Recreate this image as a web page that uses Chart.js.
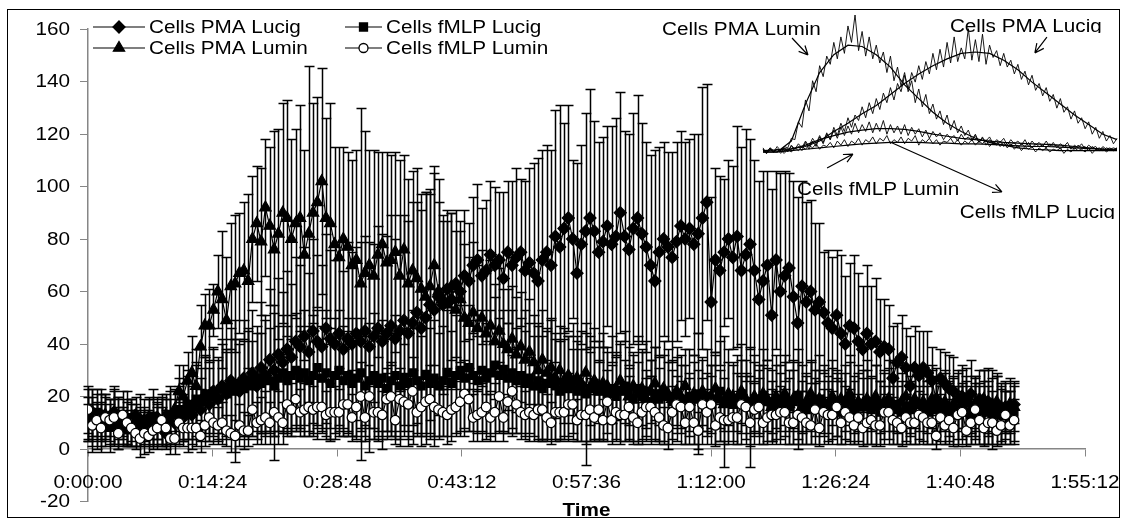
<!DOCTYPE html>
<html>
<head>
<meta charset="utf-8">
<title>Chemiluminescence kinetics</title>
<script src="https://cdn.jsdelivr.net/npm/chart.js@4.4.1/dist/chart.umd.min.js"></script>
<style>
  html, body { margin: 0; padding: 0; background: #fff; }
  #wrap { position: relative; width: 1125px; height: 521px; }
  #mainChart { position: absolute; left: 0; top: 0; }
  #insetChart { position: absolute; left: 640px; top: 0; }
</style>
</head>
<body>
<div id="wrap">
  <canvas id="mainChart" width="1125" height="521"></canvas>
  <canvas id="insetChart" width="485" height="230"></canvas>
</div>
<script>
// --- Main series: one reading every 30 s, mean and SD ---
const STEP_SEC = 30;

const pmaLucig = [
  12, 14, 10, 13, 9, 11, 14, 8, 12, 10,
  9, 13, 7, 11, 8, 10, 12, 9, 6, 11,
  10, 14, 12, 16, 13, 18, 15, 20, 17, 22,
  19, 24, 21, 26, 23, 22, 27, 25, 29, 24,
  31, 28, 34, 30, 36, 33, 38, 35, 41, 39,
  43, 37, 45, 41, 39, 46, 42, 40, 44, 38,
  42, 40, 44, 41, 45, 39, 43, 46, 41, 44,
  47, 42, 45, 49, 44, 48, 52, 46, 50, 55,
  53, 58, 55, 61, 57, 63, 60, 66, 64, 70,
  72, 66, 68, 74, 70, 72, 65, 75, 70, 73,
  75, 68, 71, 67, 64, 72, 75, 70, 81, 77,
  84, 88, 80, 67, 78, 83, 88, 83, 75, 79,
  85, 78, 81, 90, 81, 76, 84, 88, 82, 77,
  70, 64, 75, 80, 77, 73, 79, 85, 80, 84,
  78, 82, 88, 94, 56, 72, 68, 75, 80, 73,
  81, 68, 74, 78, 68, 57, 64, 70, 51, 72,
  60, 66, 69, 58, 48, 62, 56, 60, 53, 56,
  52, 48, 46, 51, 44, 40, 47, 46, 41, 38,
  44, 40, 41, 37, 39, 38, 27, 33, 35, 31,
  24, 31, 28, 31, 29, 26, 19, 27, 25, 23,
  22, 15, 20, 18, 21, 16, 19, 14, 18, 15,
  17, 13, 16, 14, 17
];
const pmaLucigSd = [
  8, 9, 7, 10, 8, 6, 9, 8, 7, 9,
  8, 7, 6, 8, 7, 9, 8, 7, 6, 8,
  9, 10, 9, 12, 11, 14, 12, 15, 14, 17,
  16, 18, 17, 20, 19, 18, 22, 21, 24, 20,
  25, 23, 27, 25, 29, 27, 30, 28, 32, 31,
  34, 30, 35, 33, 31, 36, 34, 32, 35, 30,
  37, 35, 33, 38, 36, 40, 35, 39, 41, 37,
  42, 38, 44, 40, 43, 46, 42, 45, 48, 44,
  52, 45, 34, 30, 33, 28, 27, 25, 22, 26,
  29, 26, 27, 28, 30, 26, 33, 27, 32, 34,
  28, 34, 36, 42, 47, 42, 41, 44, 48, 54,
  40, 43, 30, 42, 38, 45, 49, 42, 42, 40,
  38, 45, 45, 46, 40, 44, 44, 47, 42, 40,
  42, 50, 40, 37, 36, 40, 38, 36, 37, 34,
  42, 38, 50, 45, 40, 35, 36, 28, 30, 35,
  42, 47, 48, 40, 42, 45, 42, 36, 48, 34,
  45, 40, 36, 44, 48, 40, 38, 35, 33, 30,
  23, 28, 27, 25, 30, 26, 24, 28, 26, 24,
  26, 22, 24, 20, 18, 17, 20, 15, 16, 15,
  19, 16, 17, 14, 16, 13, 12, 11, 12, 13,
  13, 14, 12, 13, 13, 12, 11, 12, 13, 15,
  11, 10, 9, 8, 7
];

const fmlpLucig = [
  13, 11, 14, 10, 12, 9, 13, 11, 8, 12,
  10, 9, 11, 8, 10, 12, 9, 11, 10, 13,
  12, 15, 14, 17, 16, 19, 18, 21, 20, 22,
  19, 23, 21, 24, 22, 25, 23, 26, 24, 27,
  25, 28, 26, 24, 27, 29, 26, 28, 30, 27,
  29, 26, 28, 31, 27, 29, 25, 28, 30, 26,
  28, 25, 27, 29, 24, 26, 28, 25, 27, 23,
  26, 28, 24, 27, 25, 29, 26, 24, 28, 25,
  27, 24, 26, 29, 25, 28, 30, 27, 31, 28,
  26, 30, 27, 29, 32, 28, 30, 27, 29, 26,
  28, 25, 27, 24, 26, 23, 25, 27, 24, 22,
  25, 23, 26, 22, 24, 21, 23, 25, 22, 24,
  21, 23, 20, 22, 24, 21, 19, 23, 20, 22,
  18, 21, 19, 22, 20, 18, 21, 19, 17, 20,
  19, 21, 18, 20, 17, 19, 22, 18, 20, 17,
  19, 21, 18, 16, 19, 17, 20, 18, 16, 19,
  17, 19, 16, 18, 20, 17, 15, 18, 16, 19,
  17, 15, 18, 16, 14, 17, 19, 15, 17, 16,
  18, 15, 17, 14, 16, 18, 15, 17, 14, 16,
  15, 17, 13, 16, 14, 17, 15, 13, 16, 14,
  15, 13, 16, 14, 12, 15, 13, 16, 14, 12,
  15, 13, 14, 12, 14
];
const fmlpLucigSd = [
  10, 12, 9, 11, 8, 10, 11, 9, 7, 10,
  9, 8, 10, 7, 9, 11, 8, 10, 9, 11,
  10, 12, 11, 13, 12, 14, 13, 15, 14, 16,
  15, 17, 16, 18, 27, 17, 18, 19, 17, 20,
  19, 21, 20, 28, 20, 22, 21, 23, 22, 20,
  24, 21, 23, 22, 20, 24, 21, 22, 23, 21,
  22, 20, 23, 21, 19, 22, 24, 20, 22, 19,
  21, 23, 20, 22, 21, 24, 20, 19, 23, 21,
  22, 20, 21, 24, 20, 23, 25, 22, 24, 21,
  20, 23, 21, 24, 26, 22, 23, 21, 24, 20,
  22, 20, 21, 19, 22, 20, 21, 23, 20, 19,
  21, 20, 22, 19, 21, 27, 20, 21, 19, 20,
  18, 20, 17, 19, 21, 18, 17, 20, 18, 19,
  16, 18, 17, 19, 18, 16, 18, 17, 15, 18,
  17, 23, 16, 18, 15, 17, 19, 25, 18, 15,
  17, 19, 16, 23, 17, 15, 18, 16, 14, 17,
  15, 17, 14, 16, 18, 15, 13, 16, 14, 17,
  15, 13, 16, 14, 12, 15, 17, 13, 15, 14,
  16, 13, 15, 12, 14, 16, 13, 15, 12, 14,
  13, 15, 11, 14, 12, 15, 13, 11, 14, 12,
  13, 11, 14, 12, 10, 13, 11, 14, 12, 10,
  13, 11, 12, 10, 12
];

const pmaLumin = [
  10, 12, 9, 11, 13, 8, 10, 12, 9, 7,
  11, 8, 10, 9, 12, 8, 11, 10, 13, 12,
  15, 22, 20, 26, 29, 24, 39, 47, 47, 53,
  60, 57, 49, 62, 63, 67, 68, 64, 80, 86,
  79, 92, 85, 76, 82, 90, 88, 80, 86, 88,
  74, 82, 90, 94, 102, 88, 86, 78, 73, 80,
  77, 70, 72, 63, 67, 70, 66, 74, 78, 71,
  72, 75, 66, 76, 63, 68, 65, 61, 58, 62,
  70, 60, 57, 55, 62, 53, 57, 50, 48, 52,
  46, 50, 44, 47, 41, 45, 40, 38, 42, 36,
  39, 34, 37, 33, 30, 34, 29, 31, 27, 30,
  26, 28, 24, 27, 25, 29, 23, 26, 22, 25,
  24, 21, 23, 26, 22, 20, 24, 21, 23, 19,
  22, 25, 20, 23, 21, 19, 22, 20, 24, 18,
  21, 19, 22, 18, 20, 23, 19, 17, 21, 20,
  18, 22, 19, 17, 20, 18, 21, 19, 16, 20,
  18, 21, 17, 19, 20, 16, 18, 21, 17, 19,
  18, 16, 20, 17, 19, 18, 21, 16, 18, 17,
  19, 17, 20, 16, 18, 19, 17, 15, 18, 20,
  16, 19, 17, 18, 15, 19, 17, 16, 18, 15,
  17, 19, 16, 18, 15, 17, 16, 19, 15, 17,
  18, 16, 14, 17, 16
];
const pmaLuminSd = [
  7, 8, 9, 7, 8, 6, 9, 8, 7, 6,
  8, 7, 6, 7, 8, 6, 7, 9, 8, 10,
  8, 10, 12, 11, 14, 14, 16, 12, 14, 10,
  14, 26, 24, 24, 26, 23, 26, 33, 24, 22,
  28, 26, 30, 45, 40, 42, 45, 38, 36, 43,
  40, 64, 42, 40, 43, 38, 46, 37, 42, 35,
  36, 40, 42, 67, 54, 44, 48, 39, 35, 42,
  40, 38, 44, 36, 40, 38, 42, 36, 40, 35,
  38, 34, 30, 32, 28, 30, 26, 28, 25, 27,
  24, 26, 23, 25, 22, 24, 21, 23, 20, 22,
  21, 19, 20, 18, 17, 19, 16, 18, 15, 17,
  16, 15, 14, 16, 13, 15, 14, 13, 12, 14,
  13, 11, 12, 14, 12, 11, 13, 12, 14, 11,
  12, 14, 11, 13, 12, 11, 13, 12, 14, 11,
  12, 11, 13, 11, 12, 14, 11, 10, 12, 13,
  11, 12, 10, 11, 13, 12, 11, 12, 10, 12,
  11, 12, 10, 11, 13, 10, 11, 12, 10, 11,
  12, 10, 11, 12, 10, 11, 12, 10, 11, 10,
  11, 10, 12, 10, 11, 12, 10, 9, 11, 12,
  10, 11, 10, 11, 9, 11, 10, 9, 11, 10,
  10, 11, 9, 10, 9, 10, 9, 11, 9, 10,
  11, 9, 8, 10, 9
];

const fmlpLumin = [
  15, 9, 11, 8, 12, 11, 12, 6, 13, 10,
  8, 6, 4, 6, 5, 7, 8, 11, 8, 4,
  4, 10, 8, 8, 8, 8, 5, 9, 12, 10,
  9, 10, 7, 6, 5, 9, 7, 7, 15, 10,
  11, 12, 10, 14, 12, 10, 17, 15, 19, 14,
  15, 16, 15, 16, 16, 13, 14, 14, 14, 17,
  17, 12, 16, 20, 12, 20, 14, 14, 13, 19,
  20, 11, 19, 18, 17, 22, 14, 16, 18, 19,
  16, 15, 14, 13, 15, 16, 18, 21, 19, 12,
  13, 14, 16, 12, 14, 20, 12, 18, 22, 17,
  14, 13, 14, 13, 15, 15, 12, 10, 14, 14,
  14, 17, 17, 11, 13, 13, 15, 12, 15, 11,
  18, 11, 14, 13, 13, 16, 12, 10, 14, 16,
  16, 14, 12, 9, 8, 14, 17, 16, 10, 16,
  10, 7, 17, 14, 17, 9, 12, 11, 11, 12,
  12, 17, 16, 10, 15, 16, 10, 12, 13, 13,
  14, 14, 10, 10, 13, 12, 10, 9, 15, 8,
  14, 13, 13, 16, 10, 14, 12, 9, 12, 8,
  10, 11, 9, 9, 14, 14, 11, 10, 8, 12,
  10, 10, 13, 12, 10, 10, 5, 12, 9, 11,
  8, 13, 14, 7, 10, 15, 11, 8, 10, 10,
  7, 9, 13, 9, 11
];
const fmlpLuminSd = [
  9, 8, 10, 7, 9, 8, 10, 6, 9, 8,
  7, 6, 7, 8, 6, 7, 8, 9, 7, 6,
  6, 8, 7, 9, 8, 7, 6, 8, 9, 8,
  7, 8, 6, 7, 6, 8, 7, 6, 10, 8,
  9, 10, 8, 9, 10, 8, 11, 10, 12, 9,
  10, 11, 9, 12, 10, 9, 11, 10, 9, 12,
  10, 9, 11, 13, 9, 12, 10, 11, 9, 12,
  13, 9, 12, 11, 10, 13, 9, 11, 12, 13,
  11, 10, 9, 11, 12, 10, 11, 13, 12, 9,
  10, 11, 12, 9, 11, 13, 9, 12, 14, 11,
  10, 9, 11, 10, 12, 11, 9, 8, 11, 10,
  9, 12, 11, 8, 10, 11, 12, 9, 11, 8,
  12, 9, 10, 11, 10, 12, 9, 8, 10, 11,
  12, 10, 9, 7, 8, 10, 11, 10, 8, 11,
  8, 7, 10, 9, 11, 8, 9, 9, 8, 9,
  10, 11, 12, 9, 10, 11, 8, 9, 10, 9,
  10, 9, 8, 8, 9, 10, 8, 7, 10, 7,
  9, 10, 9, 11, 8, 10, 9, 7, 9, 7,
  8, 9, 8, 8, 10, 10, 9, 8, 7, 9,
  8, 8, 9, 9, 8, 8, 5, 9, 7, 8,
  7, 9, 10, 6, 8, 10, 9, 7, 8, 8,
  6, 7, 9, 7, 8
];

const timeSec = pmaLucig.map((_, i) => i * STEP_SEC);
const timeTicks = ['0:00:00', '0:14:24', '0:28:48', '0:43:12', '0:57:36', '1:12:00', '1:26:24', '1:40:48', '1:55:12'];

// --- Inset: raw traces (101 samples) and fitted curves (every 4th sample) ---
const traceU = Array.from({ length: 101 }, (_, i) => i);
const fitU = [0, 4, 8, 12, 16, 20, 24, 28, 32, 36, 40, 44, 48, 52, 56, 60, 64, 68, 72, 76, 80, 84, 88, 92, 96, 100];

const rawPmaLumin = [
  2, -1, 3, 0, 2, 1, 4, 3, 10, 9,
  22, 18, 38, 30, 52, 44, 63, 55, 70, 64,
  80, 68, 84, 72, 92, 80, 100, 74, 88, 70,
  84, 68, 78, 65, 73, 58, 70, 52, 62, 48,
  58, 44, 52, 36, 46, 33, 42, 28, 35, 24,
  30, 20, 27, 16, 23, 14, 19, 12, 16, 9,
  13, 7, 11, 5, 9, 6, 8, 4, 7, 3,
  6, 2, 5, 1, 4, 2, 4, 0, 3, 1,
  3, 0, 2, 1, 3, -1, 2, 0, 3, 1,
  2, 0, 3, -1, 2, 1, 3, 0, 2, 1,
  3
];
const rawPmaLucig = [
  3, -1, 2, 0, 4, 1, 3, 0, 5, 2,
  4, 1, 7, 2, 8, 4, 11, 6, 13, 9,
  18, 12, 21, 15, 25, 18, 27, 23, 33, 25,
  36, 28, 39, 31, 43, 36, 47, 38, 50, 44,
  56, 46, 58, 51, 63, 53, 66, 57, 72, 60,
  75, 62, 80, 65, 84, 66, 76, 68, 90, 67,
  82, 66, 86, 64, 78, 69, 74, 63, 72, 62,
  67, 57, 64, 53, 59, 49, 56, 45, 50, 41,
  47, 37, 42, 32, 39, 29, 33, 24, 30, 21,
  25, 17, 22, 13, 18, 10, 15, 8, 12, 6,
  10
];
const rawFmlpLumin = [
  2, 0, 3, 1, 2, -1, 3, 1, 4, 2,
  6, 3, 8, 4, 10, 6, 12, 7, 14, 9,
  16, 10, 18, 12, 19, 13, 21, 14, 20, 15,
  22, 14, 21, 15, 23, 13, 20, 14, 19, 13,
  20, 12, 18, 13, 17, 11, 16, 10, 15, 11,
  14, 9, 13, 10, 12, 8, 13, 9, 11, 8,
  12, 7, 10, 8, 11, 6, 9, 7, 10, 5,
  9, 6, 8, 5, 9, 4, 8, 5, 7, 4,
  8, 4, 7, 3, 6, 4, 7, 2, 5, 3,
  6, 2, 5, 3, 4, 1, 4, 2, 3, 1,
  3
];
const rawFmlpLucig = [
  1, -1, 2, 0, 2, 1, -1, 2, 0, 3,
  1, 4, 2, 5, 3, 6, 2, 5, 4, 7,
  3, 8, 5, 9, 4, 8, 6, 10, 5, 9,
  7, 11, 6, 10, 8, 12, 6, 9, 7, 11,
  6, 10, 8, 12, 5, 9, 7, 10, 6, 9,
  5, 8, 7, 10, 6, 9, 5, 8, 6, 9,
  5, 8, 6, 9, 4, 7, 5, 8, 4, 7,
  5, 7, 3, 6, 4, 7, 3, 6, 4, 5,
  3, 6, 4, 5, 2, 5, 3, 4, 2, 5,
  3, 4, 1, 4, 2, 3, 1, 3, 2, 3,
  2
];
const fitPmaLumin = [0, 0, 8, 35, 58, 71, 78, 77, 71, 62, 49, 39, 29, 21, 15, 10, 7, 5, 3, 2, 1.5, 1, 1, 1, 1, 1];
const fitPmaLucig = [1, 1.5, 2.5, 4, 8, 15, 21, 28, 34, 42, 50, 57, 63, 68, 72, 73, 72, 67, 60, 51, 43, 35, 27, 20, 13, 9];
const fitFmlpLumin = [0, 0, 2, 5, 9, 12, 14.5, 16, 17, 17, 16.5, 15, 13, 11.5, 10, 9, 8, 7, 6.5, 6, 5.5, 5, 4, 3, 2, 1.5];
const fitFmlpLucig = [0, 0, 1, 2, 3, 4, 5, 6, 6.5, 7, 7, 7, 6.5, 6.5, 6, 6, 5.5, 5, 4.5, 4, 4, 3.5, 3, 2.5, 2, 2];

// inset callouts, in inset data units
const insetLabels = [
  { text: 'Cells PMA Lumin', u: -28.5, v: 85.4, clip: false },
  { text: 'Cells PMA Lucig', u: 52.8, v: 87.6, clip: true },
  { text: 'Cells fMLP Lumin', u: 9.6, v: -31.4, clip: false },
  { text: 'Cells fMLP Lucig', u: 55.6, v: -48.2, clip: true }
];
const insetArrows = [
  { from: [8.2, 83.2], to: [12.7, 70.8] },
  { from: [80.2, 83.9], to: [76.8, 72.3] },
  { from: [18.1, -11.7], to: [25.4, -1.5] },
  { from: [35.9, 7.3], to: [67.5, -29.2] }
];

// ------------------------------------------------------------
const FONT = '"Liberation Sans", Arial, Helvetica, sans-serif';
const TEXT_STRETCH = 1.15;
const AXIS_GREY = '#868686';
const CAP_HALF = 5;

function stretchText(ctx, text, x, y, align) {
  const w = ctx.measureText(text).width * TEXT_STRETCH;
  const left = align === 'center' ? x - w / 2 : align === 'right' ? x - w : x;
  ctx.save();
  ctx.translate(left, y);
  ctx.scale(TEXT_STRETCH, 1);
  ctx.textAlign = 'left';
  ctx.fillText(text, 0, 0);
  ctx.restore();
}

function pairs(values) {
  return values.map((v, i) => ({ x: timeSec[i], y: v }));
}

function marker(ctx, style, x, y) {
  ctx.beginPath();
  if (style === 'rectRot') {
    ctx.moveTo(x, y - 6); ctx.lineTo(x + 6, y); ctx.lineTo(x, y + 6); ctx.lineTo(x - 6, y);
  } else if (style === 'rect') {
    ctx.rect(x - 4, y - 4, 8, 8);
  } else if (style === 'triangle') {
    ctx.moveTo(x, y - 6.5); ctx.lineTo(x + 5.6, y + 3.2); ctx.lineTo(x - 5.6, y + 3.2);
  } else {
    ctx.arc(x, y, 4.5, 0, Math.PI * 2);
  }
  ctx.closePath();
  ctx.fillStyle = style === 'circle' ? '#fff' : '#000';
  ctx.fill();
  ctx.strokeStyle = '#000';
  ctx.lineWidth = 1.3;
  ctx.stroke();
}

// SD whiskers, drawn under each series' own line and markers
const errorBars = {
  id: 'errorBars',
  beforeDatasetDraw(chart, args) {
    const ds = chart.data.datasets[args.index];
    if (!ds.errors) return;
    const ys = chart.scales.y;
    const ctx = chart.ctx;
    ctx.save();
    ctx.strokeStyle = '#000';
    ctx.lineWidth = 1.5;
    ctx.beginPath();
    args.meta.data.forEach((pt, i) => {
      const v = ds.data[i].y, e = ds.errors[i];
      const x = Math.round(pt.x) + 0.5;
      const top = Math.round(ys.getPixelForValue(v + e)) + 0.5;
      const bot = Math.round(ys.getPixelForValue(v - e)) + 0.5;
      ctx.moveTo(x, top); ctx.lineTo(x, bot);
      ctx.moveTo(x - CAP_HALF, top); ctx.lineTo(x + CAP_HALF, top);
      ctx.moveTo(x - CAP_HALF, bot); ctx.lineTo(x + CAP_HALF, bot);
    });
    ctx.stroke();
    ctx.restore();
  }
};

// tick labels, axis title, legend and frame
const chartText = {
  id: 'chartText',
  afterDraw(chart) {
    const ctx = chart.ctx, xs = chart.scales.x, ys = chart.scales.y;
    const zeroY = ys.getPixelForValue(0);
    ctx.save();
    ctx.fillStyle = '#000';
    ctx.font = '18px ' + FONT;

    ctx.textBaseline = 'middle';
    ys.ticks.forEach(t => stretchText(ctx, String(t.value), chart.chartArea.left - 18, ys.getPixelForValue(t.value) + 1, 'right'));

    ctx.textBaseline = 'alphabetic';
    xs.ticks.forEach((t, i) => stretchText(ctx, timeTicks[i], xs.getPixelForValue(t.value), zeroY + 39, 'center'));

    ctx.font = 'bold 18px ' + FONT;
    stretchText(ctx, 'Time', (chart.chartArea.left + chart.chartArea.right) / 2, 516, 'center');

    // legend, two entries per row
    ctx.font = '18px ' + FONT;
    const rows = [27, 48];
    const cols = [{ x0: 93, x1: 145, tx: 149 }, { x0: 345, x1: 382, tx: 386 }];
    chart.data.datasets.forEach((ds, i) => {
      const col = cols[i % 2], y = rows[Math.floor(i / 2)];
      ctx.strokeStyle = '#000';
      ctx.lineWidth = 1.2;
      ctx.beginPath();
      ctx.moveTo(col.x0, y); ctx.lineTo(col.x1, y);
      ctx.stroke();
      marker(ctx, ds.pointStyle, (col.x0 + col.x1) / 2, y);
      ctx.fillStyle = '#000';
      stretchText(ctx, ds.label, col.tx, y + 6, 'left');
    });

    ctx.strokeStyle = '#000';
    ctx.lineWidth = 1;
    ctx.strokeRect(7.5, 9.5, 1112, 508);
    ctx.restore();
  }
};

function series(label, values, errors, style, radius, fill, order) {
  return {
    label, data: pairs(values), errors, order,
    borderColor: '#000', borderWidth: 1.2, tension: 0,
    pointStyle: style, pointRadius: radius,
    pointBackgroundColor: fill, pointBorderColor: '#000', pointBorderWidth: 1.3
  };
}

new Chart(document.getElementById('mainChart'), {
  type: 'line',
  data: {
    datasets: [
      series('Cells PMA Lucig', pmaLucig, pmaLucigSd, 'rectRot', 6, '#000', 4),
      series('Cells fMLP Lucig', fmlpLucig, fmlpLucigSd, 'rect', 5.5, '#000', 3),
      series('Cells PMA Lumin', pmaLumin, pmaLuminSd, 'triangle', 6.5, '#000', 2),
      series('Cells fMLP Lumin', fmlpLumin, fmlpLuminSd, 'circle', 4.8, '#fff', 1)
    ]
  },
  options: {
    responsive: false,
    animation: false,
    devicePixelRatio: 1,
    events: [],
    layout: { padding: { left: 0, right: 40, top: 29, bottom: 19.5 }, autoPadding: false },
    plugins: { legend: { display: false }, tooltip: { enabled: false } },
    scales: {
      x: {
        type: 'linear', min: 0, max: 6912,
        position: { y: 0 },
        ticks: { stepSize: 864, display: false },
        grid: { drawOnChartArea: false, drawTicks: true, tickLength: 7, color: AXIS_GREY },
        border: { color: AXIS_GREY, width: 1.5 }
      },
      y: {
        min: -20, max: 160,
        ticks: { stepSize: 20, display: false },
        grid: { drawOnChartArea: false, drawTicks: true, tickLength: 8, color: AXIS_GREY },
        border: { color: AXIS_GREY, width: 1.5 },
        afterFit(scale) { scale.width = 88; }
      }
    }
  },
  plugins: [errorBars, chartText]
});

// --- Inset with raw traces, fits and callouts ---
function arrowHead(ctx, x0, y0, x1, y1) {
  const a = Math.atan2(y1 - y0, x1 - x0), len = 10, spread = 0.45;
  ctx.moveTo(x1, y1);
  ctx.lineTo(x1 - len * Math.cos(a - spread), y1 - len * Math.sin(a - spread));
  ctx.moveTo(x1, y1);
  ctx.lineTo(x1 - len * Math.cos(a + spread), y1 - len * Math.sin(a + spread));
}

const insetCallouts = {
  id: 'insetCallouts',
  afterDraw(chart) {
    const ctx = chart.ctx, xs = chart.scales.x, ys = chart.scales.y;
    ctx.save();
    ctx.strokeStyle = '#000';
    ctx.lineWidth = 1.2;
    ctx.beginPath();
    insetArrows.forEach(a => {
      const x0 = xs.getPixelForValue(a.from[0]), y0 = ys.getPixelForValue(a.from[1]);
      const x1 = xs.getPixelForValue(a.to[0]), y1 = ys.getPixelForValue(a.to[1]);
      ctx.moveTo(x0, y0); ctx.lineTo(x1, y1);
      arrowHead(ctx, x0, y0, x1, y1);
    });
    ctx.stroke();

    ctx.fillStyle = '#000';
    ctx.font = '18px ' + FONT;
    ctx.textBaseline = 'alphabetic';
    insetLabels.forEach(l => {
      const x = xs.getPixelForValue(l.u), y = ys.getPixelForValue(l.v);
      ctx.save();
      if (l.clip) {
        ctx.beginPath();
        ctx.rect(0, 0, chart.width, y + 1);
        ctx.clip();
      }
      stretchText(ctx, l.text, x, y, 'left');
      ctx.restore();
    });
    ctx.restore();
  }
};

function trace(u, v, width) {
  return {
    data: v.map((y, i) => ({ x: u[i], y })),
    borderColor: '#000', borderWidth: width, pointRadius: 0, tension: 0, clip: false
  };
}

new Chart(document.getElementById('insetChart'), {
  type: 'line',
  data: {
    datasets: [
      trace(traceU, rawPmaLumin, 0.9),
      trace(traceU, rawPmaLucig, 0.9),
      trace(traceU, rawFmlpLumin, 0.9),
      trace(traceU, rawFmlpLucig, 0.9),
      trace(fitU, fitPmaLumin, 1.2),
      trace(fitU, fitPmaLucig, 1.2),
      trace(fitU, fitFmlpLumin, 1.2),
      trace(fitU, fitFmlpLucig, 1.2)
    ]
  },
  options: {
    responsive: false,
    animation: false,
    devicePixelRatio: 1,
    events: [],
    layout: { padding: { left: 123, right: 8, top: 15, bottom: 78 }, autoPadding: false },
    plugins: { legend: { display: false }, tooltip: { enabled: false } },
    scales: {
      x: { type: 'linear', min: 0, max: 100, display: false },
      y: { min: 0, max: 100, display: false }
    }
  },
  plugins: [insetCallouts]
});
</script>
</body>
</html>
